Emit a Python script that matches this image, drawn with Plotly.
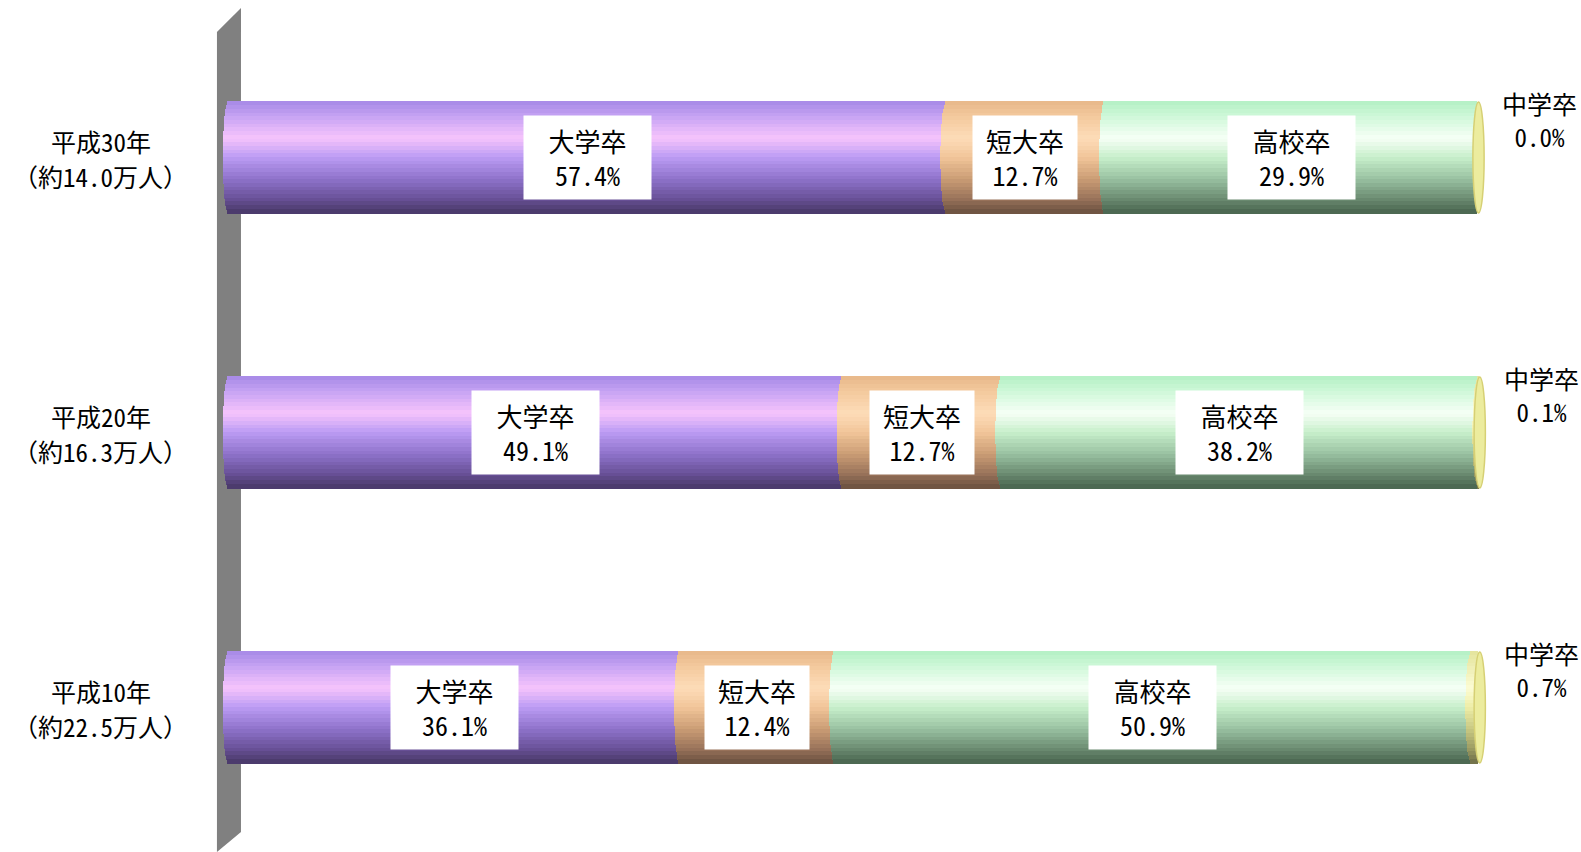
import numpy as np
import plotly.graph_objects as go

# ---- data ----
years = ["平成30年", "平成20年", "平成10年"]          # top to bottom
headcount = ["約14.0万人", "約16.3万人", "約22.5万人"]
series_names = ["大学卒", "短大卒", "高校卒", "中学卒"]
daigaku = [57.4, 49.1, 36.1]
tandai = [12.7, 12.7, 12.4]
koukou = [29.9, 38.2, 50.9]
chugaku = [0.0, 0.1, 0.7]

series_values = [daigaku, tandai, koukou, chugaku]

# ---- style ----
FONT = "Noto Sans Mono CJK JP, Noto Sans CJK JP"
profiles = {
    "大学卒": [(0, "#a689e6"), (0.14, "#c8a4f4"), (0.33, "#f6c4fc"), (0.5, "#bc9cf4"),
             (0.7, "#8e72ca"), (0.88, "#685096"), (1.0, "#483866")],
    "短大卒": [(0, "#e8b88a"), (0.14, "#f4ca9e"), (0.33, "#fddcb8"), (0.5, "#f2c69a"),
             (0.7, "#ca9c74"), (0.88, "#98725a"), (1.0, "#6a503f")],
    "高校卒": [(0, "#b4f0c4"), (0.14, "#d0f8da"), (0.33, "#f6fff6"), (0.5, "#c8f0cc"),
             (0.7, "#98c0a0"), (0.88, "#6a8a70"), (1.0, "#48644e")],
    "中学卒": [(0, "#e4e49c"), (0.14, "#eeeeb4"), (0.33, "#fcfcd4"), (0.5, "#eeeea8"),
             (0.7, "#c8c882"), (0.88, "#9a9a62"), (1.0, "#6e6e48")],
}


def hex2rgb(h):
    h = h.lstrip("#")
    return np.array([int(h[i:i + 2], 16) for i in (0, 2, 4)], dtype=float)


def interp(profile, f):
    for (f0, c0), (f1, c1) in zip(profile[:-1], profile[1:]):
        if f0 <= f <= f1:
            a = (f - f0) / (f1 - f0) if f1 > f0 else 0
            c = hex2rgb(c0) * (1 - a) + hex2rgb(c1) * a
            return "rgb(%d,%d,%d)" % tuple(np.round(c))
    return profile[-1][1]


cat_order = list(reversed(years))  # bottom first on axis
ypos = {y: cat_order.index(y) for y in years}

W = 0.404      # bar thickness (category units)
N = 30         # shading bands
E = 0.45       # ellipse half-depth in x units
step = W / N
ov = step * 0.25

cum = np.zeros(len(years))
bases = []
for vals in series_values:
    bases.append(cum.copy())
    cum = cum + np.array(vals)
totals = cum

fig = go.Figure()

for s, (name, vals) in enumerate(zip(series_names, series_values)):
    prof = profiles[name]
    for k in range(N):
        fc = (k + 0.5) / N
        t = 2 * fc - 1
        c = np.sqrt(max(0.0, 1 - t * t))
        shift = -E * c
        offset = W / 2 - (k + 1) * step - ov / 2
        fig.add_trace(go.Bar(
            y=years, x=vals, base=list(bases[s] + shift), orientation="h",
            width=step + ov, offset=offset,
            marker=dict(color=interp(prof, fc), line=dict(width=0)),
            name=name, showlegend=False, hoverinfo="skip" if k else "x+name",
        ))

shapes = []
# gray wall on the left (paper coords)
shapes.append(dict(
    type="path", xref="paper", yref="paper", layer="below",
    path="M 0.0007,0.9855 L 0.0183,1.0145 L 0.0183,0.0158 L 0.0007,-0.0085 Z",
    fillcolor="#808080", line=dict(width=0),
))
# end caps of cylinders
for i, y in enumerate(years):
    p = ypos[y]
    shapes.append(dict(
        type="circle", xref="x", yref="y", layer="above",
        x0=totals[i] - E, x1=totals[i] + E, y0=p - W / 2, y1=p + W / 2,
        fillcolor="#ecec9e", line=dict(color="#d6d074", width=1.5),
    ))

annotations = []
# category labels (two separate lines)
for y, h in zip(years, headcount):
    annotations.append(dict(
        xref="paper", yref="y", x=-0.0843, y=y, xanchor="center", yanchor="middle",
        yshift=17, text=y, showarrow=False,
        font=dict(family=FONT, size=25, color="black"),
    ))
    annotations.append(dict(
        xref="paper", yref="y", x=-0.0843, y=y, xanchor="center", yanchor="middle",
        yshift=-18, text=f"（{h}）", showarrow=False,
        font=dict(family=FONT, size=25, color="black"),
    ))
# value boxes
box_w = [127, 104, 127]
for s in range(3):
    for i, y in enumerate(years):
        v = series_values[s][i]
        annotations.append(dict(
            xref="x", yref="y", x=bases[s][i] + v / 2, y=y,
            text=f"{series_names[s]}<br>{v:.1f}%", showarrow=False, align="center",
            width=box_w[s], height=83, bgcolor="white", borderpad=0,
            font=dict(family=FONT, size=26, color="black"),
        ))
# 中学卒 labels outside right
for i, y in enumerate(years):
    annotations.append(dict(
        xref="x", yref="y", x=totals[i] + 4.9, y=y, yshift=38,
        text=f"{series_names[3]}<br>{chugaku[i]:.1f}%", showarrow=False, align="center",
        font=dict(family=FONT, size=25, color="black"),
    ))

fig.update_layout(
    width=1581, height=852,
    margin=dict(l=216, r=0, t=20, b=7, pad=0),
    paper_bgcolor="white", plot_bgcolor="white",
    barmode="overlay", bargap=0,
    showlegend=False,
    xaxis=dict(range=[-1.0, 108.2], visible=False, fixedrange=True),
    yaxis=dict(type="category", categoryorder="array", categoryarray=cat_order,
               range=[-0.5, 2.5], showticklabels=False, showgrid=False,
               zeroline=False, showline=False, ticks="", fixedrange=True),
    shapes=shapes, annotations=annotations,
)

fig.write_html(
    "out.html",
    config={"displayModeBar": False},
    post_script="document.body.style.margin='0px';document.body.style.overflow='hidden';",
)
